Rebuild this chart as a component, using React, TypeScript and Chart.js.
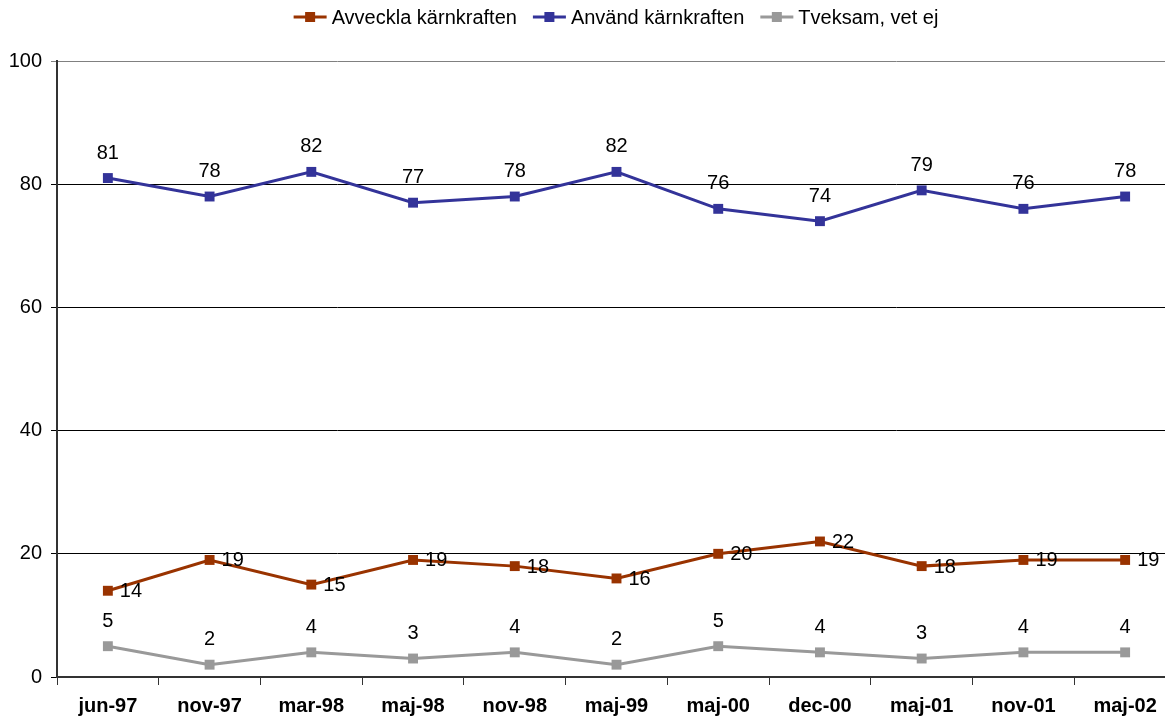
import React, { useEffect, useRef } from "react";
import { Chart, registerables } from "chart.js";

Chart.register(...registerables);

const categories = ["jun-97", "nov-97", "mar-98", "maj-98", "nov-98", "maj-99", "maj-00", "dec-00", "maj-01", "nov-01", "maj-02"];
const avveckla = [14, 19, 15, 19, 18, 16, 20, 22, 18, 19, 19];
const anvand = [81, 78, 82, 77, 78, 82, 76, 74, 79, 76, 78];
const tveksam = [5, 2, 4, 3, 4, 2, 5, 4, 3, 4, 4];
const yTicks = [0, 20, 40, 60, 80, 100];

const seriesNames = ["Avveckla kärnkraften", "Använd kärnkraften", "Tveksam, vet ej"];
const seriesColors = ["#993300", "#333399", "#999999"];
const labelModes = ["right", "top", "top"];

const FONT = "'Liberation Sans', Arial, sans-serif";

const labelPlugin = {
  id: "valueLabels",
  afterDatasetsDraw(chart: any) {
    const ctx = chart.ctx;
    ctx.save();
    ctx.font = `20px ${FONT}`;
    ctx.fillStyle = "#000";
    chart.data.datasets.forEach((ds: any, i: number) => {
      const meta = chart.getDatasetMeta(i);
      meta.data.forEach((pt: any, j: number) => {
        const v = ds.data[j];
        ctx.textBaseline = "middle";
        if (labelModes[i] === "right") {
          ctx.textAlign = "left";
          ctx.fillText(String(v), pt.x + 12, pt.y + 1);
        } else {
          ctx.textAlign = "center";
          ctx.fillText(String(v), pt.x, pt.y - 25);
        }
      });
    });
    ctx.restore();
  },
};

const legendPlugin = {
  id: "customLegend",
  afterDraw(chart: any) {
    const ctx = chart.ctx;
    ctx.save();
    ctx.font = `20px ${FONT}`;
    const markerW = 33;
    const gap = 5;
    const spacing = 16;
    const widths = seriesNames.map((n) => ctx.measureText(n).width);
    const total = widths.reduce((a, w) => a + markerW + gap + w, 0) + spacing * (seriesNames.length - 1);
    let x = 616 - total / 2;
    const y = 17;
    seriesNames.forEach((n, i) => {
      ctx.strokeStyle = seriesColors[i];
      ctx.lineWidth = 3;
      ctx.beginPath();
      ctx.moveTo(x, y);
      ctx.lineTo(x + markerW, y);
      ctx.stroke();
      ctx.fillStyle = seriesColors[i];
      ctx.fillRect(x + markerW / 2 - 5, y - 5, 10, 10);
      ctx.fillStyle = "#000";
      ctx.textAlign = "left";
      ctx.textBaseline = "middle";
      ctx.fillText(n, x + markerW + gap, y + 1);
      x += markerW + gap + widths[i] + spacing;
    });
    ctx.restore();
  },
};

export default function App() {
  const ref = useRef<HTMLCanvasElement | null>(null);
  useEffect(() => {
    if (!ref.current) return;
    const series = [avveckla, anvand, tveksam];
    const chart = new Chart(ref.current, {
      type: "line",
      data: {
        labels: categories,
        datasets: series.map((d, i) => ({
          label: seriesNames[i],
          data: d,
          borderColor: seriesColors[i],
          backgroundColor: seriesColors[i],
          borderWidth: 3,
          pointStyle: "rect",
          pointRadius: 7,
          pointBorderWidth: 0,
          tension: 0,
          fill: false,
        })),
      },
      options: {
        animation: false,
        responsive: false,
        maintainAspectRatio: false,
        devicePixelRatio: 1,
        layout: { padding: { top: 61, right: 0, left: 0, bottom: 0 } },
        plugins: { legend: { display: false }, tooltip: { enabled: false } },
        scales: {
          x: {
            offset: true,
            grid: { offset: true, drawOnChartArea: false, tickLength: 8, color: "#333", lineWidth: 1 },
            border: { color: "#333", width: 2 },
            ticks: { font: { family: FONT, size: 20, weight: "bold" }, color: "#000", padding: 9, maxRotation: 0, autoSkip: false },
            afterFit: (s: any) => { s.height = 39; },
          },
          y: {
            min: 0,
            max: 100,
            afterBuildTicks: (s: any) => { s.ticks = yTicks.map((v) => ({ value: v })); },
            grid: {
              tickLength: 6,
              color: (c: any) => (c.tick && c.tick.value === 100 ? "#808080" : "#000"),
              lineWidth: 1,
            },
            border: { color: "#333", width: 2 },
            ticks: { font: { family: FONT, size: 20 }, color: "#000", padding: 9 },
            afterFit: (s: any) => { s.width = 57; },
          },
        },
      },
      plugins: [labelPlugin, legendPlugin],
    });
    return () => chart.destroy();
  }, []);
  return (
    <div style={{ position: "fixed", left: 0, top: 0, width: 1165, height: 716, overflow: "hidden", background: "#fff" }}>
      <canvas ref={ref} width={1183} height={716} style={{ display: "block", width: 1183, height: 716 }} />
    </div>
  );
}
